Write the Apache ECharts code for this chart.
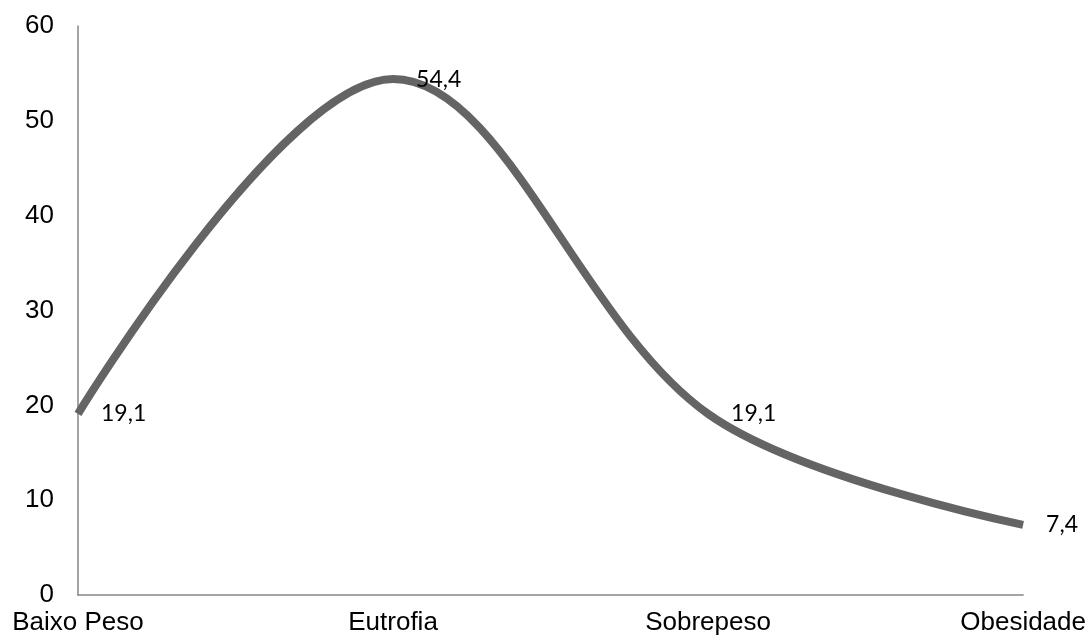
<!DOCTYPE html>
<html>
<head>
<meta charset="utf-8">
<script src="https://cdn.jsdelivr.net/npm/echarts@6/dist/echarts.min.js"></script>
<style>html,body{margin:0;padding:0;background:#fff}#c{width:1089px;height:640px}</style>
</head>
<body>
<div id="c"></div>
<script>
const categories = ['Baixo Peso', 'Eutrofia', 'Sobrepeso', 'Obesidade'];
const values = [19.1, 54.4, 19.1, 7.4];
const yTicks = {min: 0, max: 60, interval: 10};

const chart = echarts.init(document.getElementById('c'), null, {renderer: 'canvas'});
chart.setOption({
  animation: false,
  grid: {left: 78, right: 65, top: 26, bottom: 45, containLabel: false},
  xAxis: {
    type: 'category',
    data: categories,
    boundaryGap: false,
    axisLine: {show: true, lineStyle: {color: '#868686', width: 1.5}},
    axisTick: {show: false},
    axisLabel: {color: '#000', fontFamily: 'Liberation Sans', fontSize: 26, margin: 15, interval: 0},
    splitLine: {show: false}
  },
  yAxis: {
    type: 'value',
    min: yTicks.min, max: yTicks.max, interval: yTicks.interval,
    axisLine: {show: true, lineStyle: {color: '#868686', width: 1.5}},
    axisTick: {show: false},
    axisLabel: {color: '#000', fontFamily: 'Liberation Sans', fontSize: 26, margin: 24},
    splitLine: {show: false}
  },
  series: [{
    type: 'line',
    data: values,
    smooth: 0.35,
    symbol: 'circle',
    symbolSize: 2,
    showSymbol: true,
    itemStyle: {color: 'rgba(0,0,0,0)', borderWidth: 0},
    lineStyle: {color: '#646464', width: 8},
    label: {
      show: true,
      position: 'right',
      distance: 22,
      color: '#000',
      fontFamily: 'Lato',
      fontSize: 23,
      formatter: p => String(p.value).replace('.', ',')
    }
  }]
});
</script>
</body>
</html>
